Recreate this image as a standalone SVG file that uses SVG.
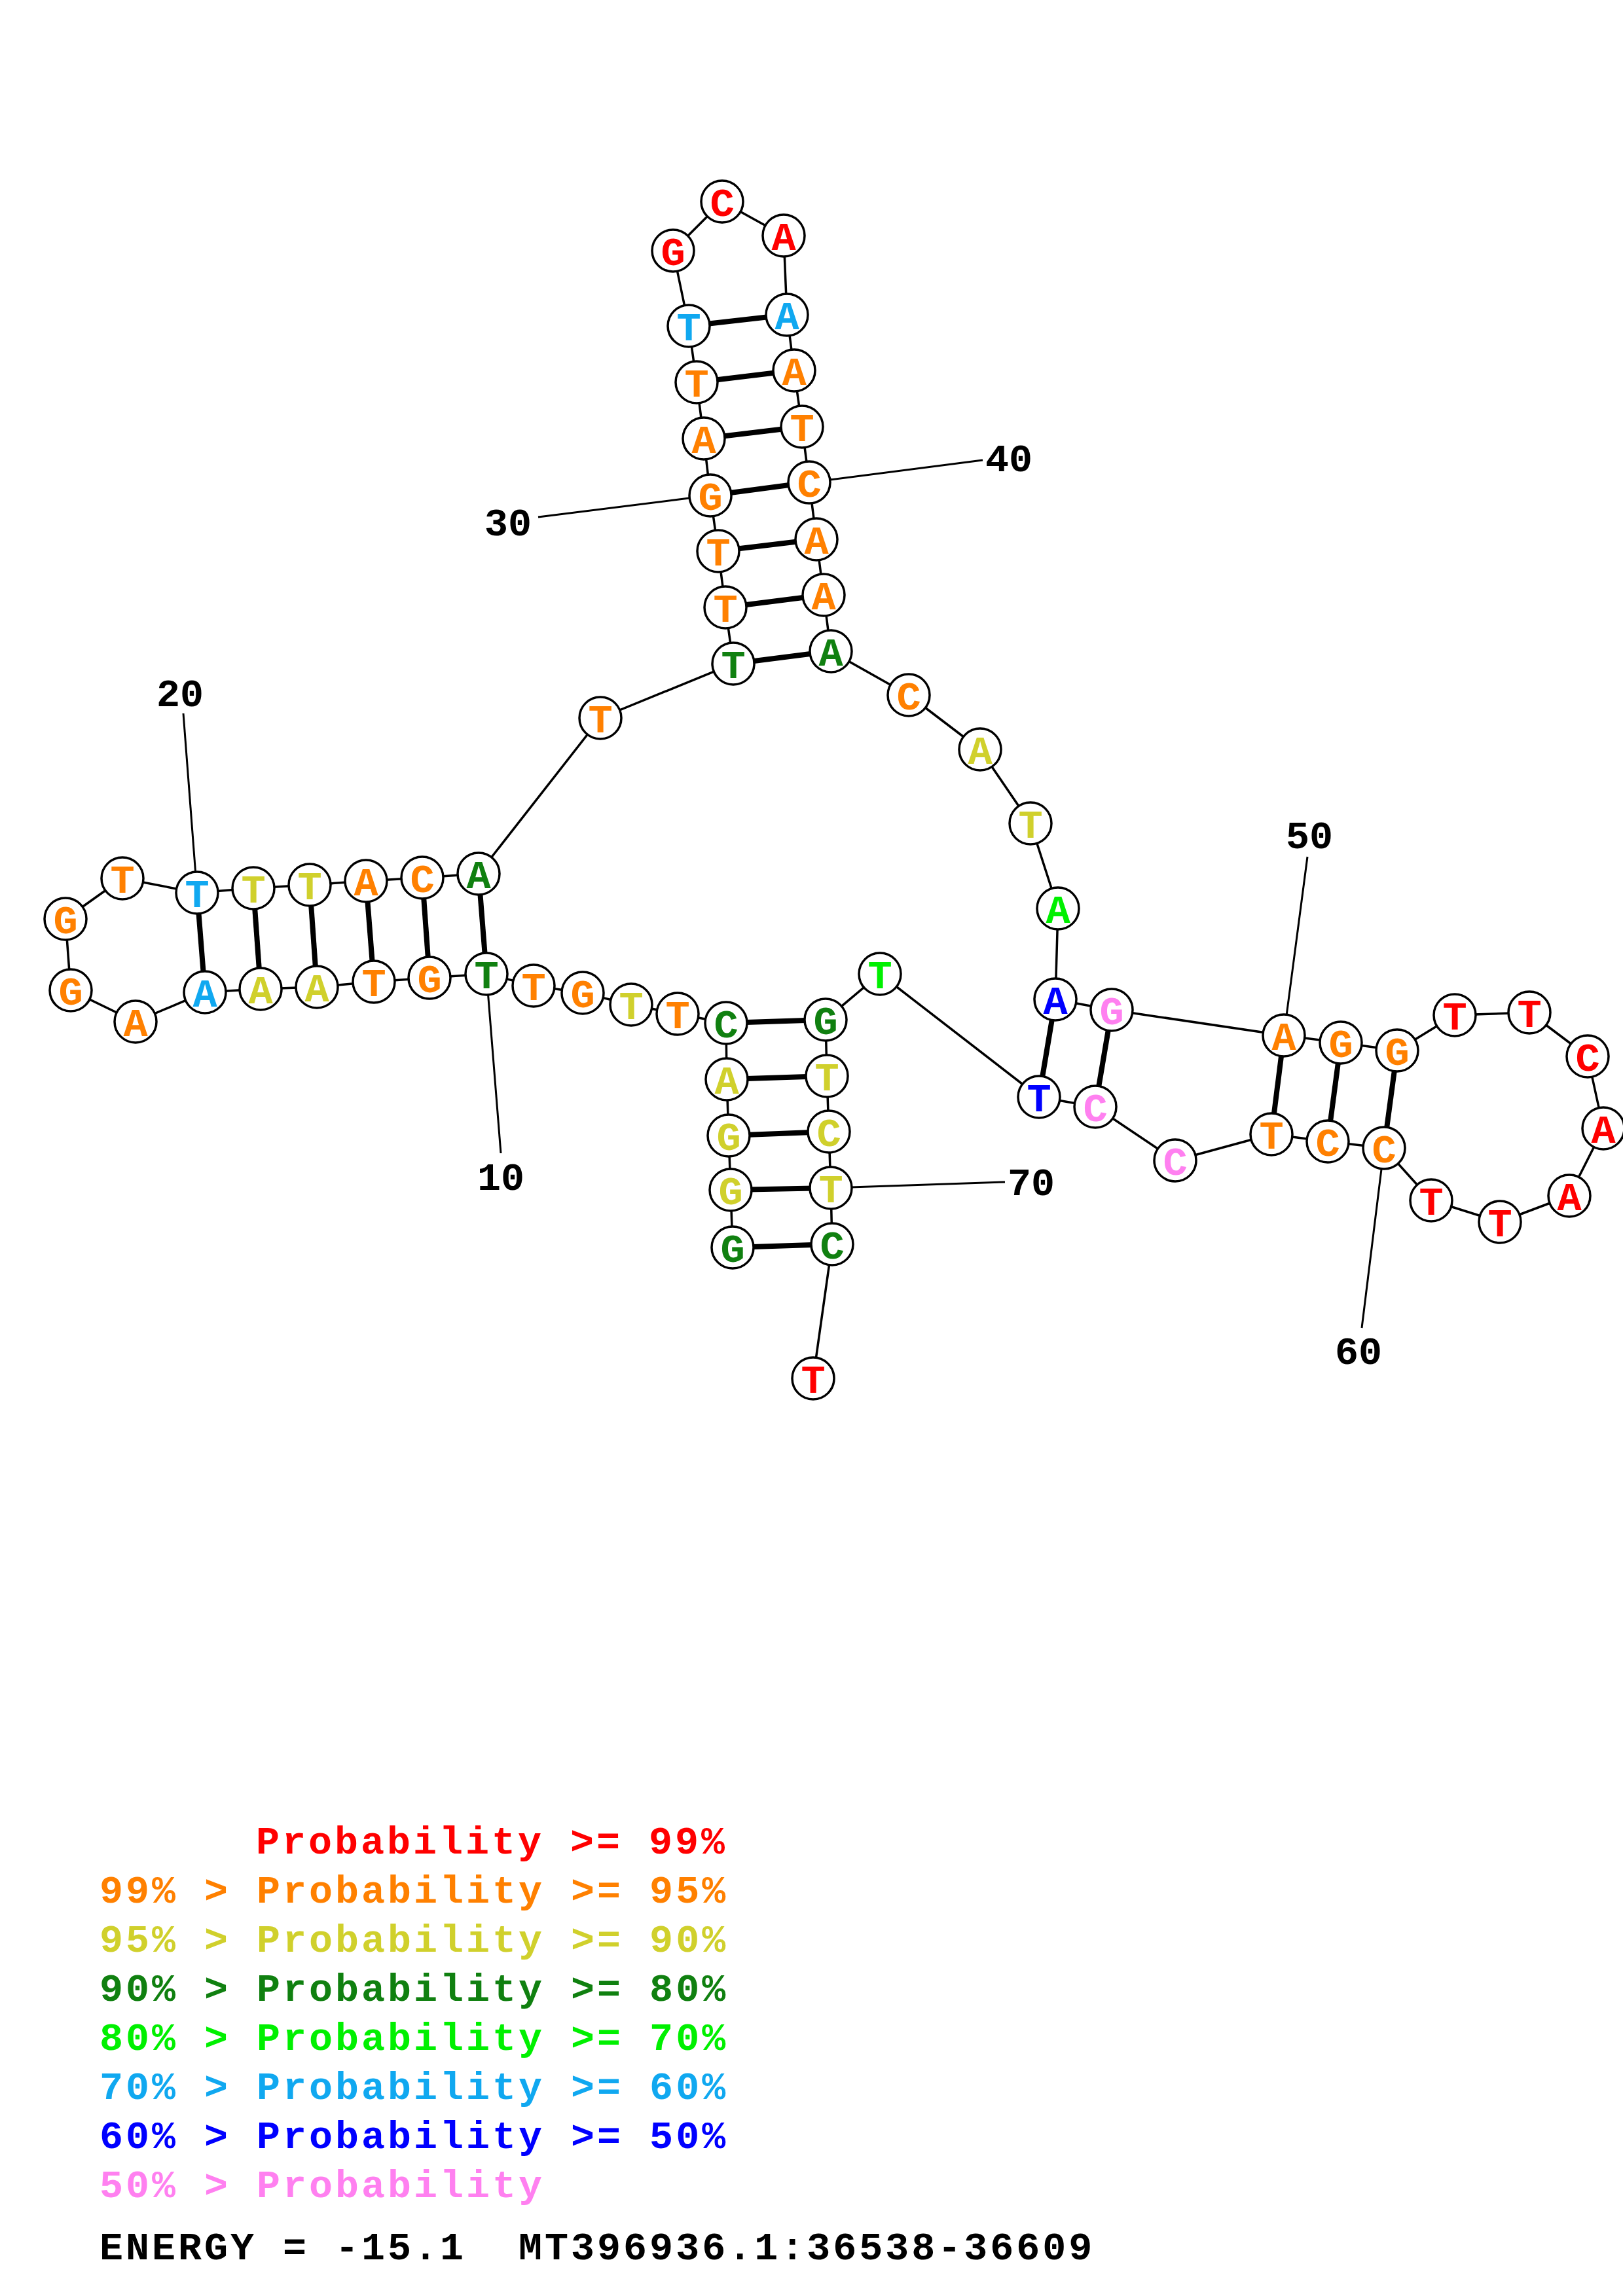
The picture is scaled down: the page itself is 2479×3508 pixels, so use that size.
<svg xmlns="http://www.w3.org/2000/svg" width="2479" height="3508" viewBox="0 0 2479 3508">
<style>
.bg{fill:#ffffff}
.nt circle{fill:#ffffff;stroke:#000000;stroke-width:3.5}
.nt text{font-family:"Liberation Mono","Courier New",monospace;font-weight:bold;font-size:62px;text-anchor:middle}
.bb{fill:none;stroke:#000000;stroke-width:3.5;stroke-linejoin:round}
.bp{stroke:#000000;stroke-width:8}
.tick{stroke:#000000;stroke-width:3}
.num{font-family:"Liberation Mono","Courier New",monospace;font-weight:bold;font-size:60px;text-anchor:middle;fill:#000000}
.leg{font-family:"Liberation Mono","Courier New",monospace;font-weight:bold;font-size:60px;letter-spacing:4px;white-space:pre}
.r{fill:#ff0000}.o{fill:#ff8000}.y{fill:#d0d02c}.dg{fill:#108010}.g{fill:#00f000}.lb{fill:#10a8f0}.b{fill:#0000ff}.p{fill:#ff80f0}.k{fill:#000000}
</style>
<rect class="bg" x="0" y="0" width="2479" height="3508"/>
<g id="connectors">
<polyline class="bb" points="1119,1906 1116,1818 1113,1735 1110,1649 1109,1563 1035,1549 964,1535 890,1517 815,1506 743,1488 656,1494 571,1500 484,1508 398,1511 313,1516 207,1561 108,1513 100,1404 187,1342 301,1364 387,1357 473,1352 559,1346 645,1341 731,1335 917,1097 1120,1014 1108,928 1097,842 1085,757 1075,670 1064,584 1052,498 1028,383 1103,308 1197,360 1202,481 1213,566 1225,652 1236,737 1247,824 1258,909 1269,995 1388,1062 1497,1145 1574,1258 1616,1388 1612,1527 1698,1543 1961,1582 2048,1593 2134,1605 2222,1551 2336,1547 2425,1614 2449,1724 2397,1827 2291,1867 2186,1834 2114,1754 2028,1744 1942,1733 1795,1773 1673,1691 1587,1676 1344,1488 1261,1558 1263,1644 1266,1729 1269,1815 1271,1901 1242,2106"/>
<line class="bp" x1="1119" y1="1906" x2="1271" y2="1901"/>
<line class="bp" x1="1116" y1="1818" x2="1269" y2="1815"/>
<line class="bp" x1="1113" y1="1735" x2="1266" y2="1729"/>
<line class="bp" x1="1110" y1="1649" x2="1263" y2="1644"/>
<line class="bp" x1="1109" y1="1563" x2="1261" y2="1558"/>
<line class="bp" x1="743" y1="1488" x2="731" y2="1335"/>
<line class="bp" x1="656" y1="1494" x2="645" y2="1341"/>
<line class="bp" x1="571" y1="1500" x2="559" y2="1346"/>
<line class="bp" x1="484" y1="1508" x2="473" y2="1352"/>
<line class="bp" x1="398" y1="1511" x2="387" y2="1357"/>
<line class="bp" x1="313" y1="1516" x2="301" y2="1364"/>
<line class="bp" x1="1120" y1="1014" x2="1269" y2="995"/>
<line class="bp" x1="1108" y1="928" x2="1258" y2="909"/>
<line class="bp" x1="1097" y1="842" x2="1247" y2="824"/>
<line class="bp" x1="1085" y1="757" x2="1236" y2="737"/>
<line class="bp" x1="1075" y1="670" x2="1225" y2="652"/>
<line class="bp" x1="1064" y1="584" x2="1213" y2="566"/>
<line class="bp" x1="1052" y1="498" x2="1202" y2="481"/>
<line class="bp" x1="1612" y1="1527" x2="1587" y2="1676"/>
<line class="bp" x1="1698" y1="1543" x2="1673" y2="1691"/>
<line class="bp" x1="1961" y1="1582" x2="1942" y2="1733"/>
<line class="bp" x1="2048" y1="1593" x2="2028" y2="1744"/>
<line class="bp" x1="2134" y1="1605" x2="2114" y2="1754"/>
<line class="tick" x1="743" y1="1488" x2="765" y2="1762"/>
<line class="tick" x1="301" y1="1364" x2="280" y2="1090"/>
<line class="tick" x1="1085" y1="757" x2="822" y2="790"/>
<line class="tick" x1="1236" y1="737" x2="1501" y2="703"/>
<line class="tick" x1="1961" y1="1582" x2="1997" y2="1309"/>
<line class="tick" x1="2114" y1="1754" x2="2080" y2="2029"/>
<line class="tick" x1="1269" y1="1815" x2="1535" y2="1806"/>
</g>
<g id="n1" class="nt"><circle cx="1119" cy="1906" r="32"/><text x="1119" y="1928" class="dg">G</text></g>
<g id="n2" class="nt"><circle cx="1116" cy="1818" r="32"/><text x="1116" y="1840" class="y">G</text></g>
<g id="n3" class="nt"><circle cx="1113" cy="1735" r="32"/><text x="1113" y="1757" class="y">G</text></g>
<g id="n4" class="nt"><circle cx="1110" cy="1649" r="32"/><text x="1110" y="1671" class="y">A</text></g>
<g id="n5" class="nt"><circle cx="1109" cy="1563" r="32"/><text x="1109" y="1585" class="dg">C</text></g>
<g id="n6" class="nt"><circle cx="1035" cy="1549" r="32"/><text x="1035" y="1571" class="o">T</text></g>
<g id="n7" class="nt"><circle cx="964" cy="1535" r="32"/><text x="964" y="1557" class="y">T</text></g>
<g id="n8" class="nt"><circle cx="890" cy="1517" r="32"/><text x="890" y="1539" class="o">G</text></g>
<g id="n9" class="nt"><circle cx="815" cy="1506" r="32"/><text x="815" y="1528" class="o">T</text></g>
<g id="n10" class="nt"><circle cx="743" cy="1488" r="32"/><text x="743" y="1510" class="dg">T</text></g>
<g id="n11" class="nt"><circle cx="656" cy="1494" r="32"/><text x="656" y="1516" class="o">G</text></g>
<g id="n12" class="nt"><circle cx="571" cy="1500" r="32"/><text x="571" y="1522" class="o">T</text></g>
<g id="n13" class="nt"><circle cx="484" cy="1508" r="32"/><text x="484" y="1530" class="y">A</text></g>
<g id="n14" class="nt"><circle cx="398" cy="1511" r="32"/><text x="398" y="1533" class="y">A</text></g>
<g id="n15" class="nt"><circle cx="313" cy="1516" r="32"/><text x="313" y="1538" class="lb">A</text></g>
<g id="n16" class="nt"><circle cx="207" cy="1561" r="32"/><text x="207" y="1583" class="o">A</text></g>
<g id="n17" class="nt"><circle cx="108" cy="1513" r="32"/><text x="108" y="1535" class="o">G</text></g>
<g id="n18" class="nt"><circle cx="100" cy="1404" r="32"/><text x="100" y="1426" class="o">G</text></g>
<g id="n19" class="nt"><circle cx="187" cy="1342" r="32"/><text x="187" y="1364" class="o">T</text></g>
<g id="n20" class="nt"><circle cx="301" cy="1364" r="32"/><text x="301" y="1386" class="lb">T</text></g>
<g id="n21" class="nt"><circle cx="387" cy="1357" r="32"/><text x="387" y="1379" class="y">T</text></g>
<g id="n22" class="nt"><circle cx="473" cy="1352" r="32"/><text x="473" y="1374" class="y">T</text></g>
<g id="n23" class="nt"><circle cx="559" cy="1346" r="32"/><text x="559" y="1368" class="o">A</text></g>
<g id="n24" class="nt"><circle cx="645" cy="1341" r="32"/><text x="645" y="1363" class="o">C</text></g>
<g id="n25" class="nt"><circle cx="731" cy="1335" r="32"/><text x="731" y="1357" class="dg">A</text></g>
<g id="n26" class="nt"><circle cx="917" cy="1097" r="32"/><text x="917" y="1119" class="o">T</text></g>
<g id="n27" class="nt"><circle cx="1120" cy="1014" r="32"/><text x="1120" y="1036" class="dg">T</text></g>
<g id="n28" class="nt"><circle cx="1108" cy="928" r="32"/><text x="1108" y="950" class="o">T</text></g>
<g id="n29" class="nt"><circle cx="1097" cy="842" r="32"/><text x="1097" y="864" class="o">T</text></g>
<g id="n30" class="nt"><circle cx="1085" cy="757" r="32"/><text x="1085" y="779" class="o">G</text></g>
<g id="n31" class="nt"><circle cx="1075" cy="670" r="32"/><text x="1075" y="692" class="o">A</text></g>
<g id="n32" class="nt"><circle cx="1064" cy="584" r="32"/><text x="1064" y="606" class="o">T</text></g>
<g id="n33" class="nt"><circle cx="1052" cy="498" r="32"/><text x="1052" y="520" class="lb">T</text></g>
<g id="n34" class="nt"><circle cx="1028" cy="383" r="32"/><text x="1028" y="405" class="r">G</text></g>
<g id="n35" class="nt"><circle cx="1103" cy="308" r="32"/><text x="1103" y="330" class="r">C</text></g>
<g id="n36" class="nt"><circle cx="1197" cy="360" r="32"/><text x="1197" y="382" class="r">A</text></g>
<g id="n37" class="nt"><circle cx="1202" cy="481" r="32"/><text x="1202" y="503" class="lb">A</text></g>
<g id="n38" class="nt"><circle cx="1213" cy="566" r="32"/><text x="1213" y="588" class="o">A</text></g>
<g id="n39" class="nt"><circle cx="1225" cy="652" r="32"/><text x="1225" y="674" class="o">T</text></g>
<g id="n40" class="nt"><circle cx="1236" cy="737" r="32"/><text x="1236" y="759" class="o">C</text></g>
<g id="n41" class="nt"><circle cx="1247" cy="824" r="32"/><text x="1247" y="846" class="o">A</text></g>
<g id="n42" class="nt"><circle cx="1258" cy="909" r="32"/><text x="1258" y="931" class="o">A</text></g>
<g id="n43" class="nt"><circle cx="1269" cy="995" r="32"/><text x="1269" y="1017" class="dg">A</text></g>
<g id="n44" class="nt"><circle cx="1388" cy="1062" r="32"/><text x="1388" y="1084" class="o">C</text></g>
<g id="n45" class="nt"><circle cx="1497" cy="1145" r="32"/><text x="1497" y="1167" class="y">A</text></g>
<g id="n46" class="nt"><circle cx="1574" cy="1258" r="32"/><text x="1574" y="1280" class="y">T</text></g>
<g id="n47" class="nt"><circle cx="1616" cy="1388" r="32"/><text x="1616" y="1410" class="g">A</text></g>
<g id="n48" class="nt"><circle cx="1612" cy="1527" r="32"/><text x="1612" y="1549" class="b">A</text></g>
<g id="n49" class="nt"><circle cx="1698" cy="1543" r="32"/><text x="1698" y="1565" class="p">G</text></g>
<g id="n50" class="nt"><circle cx="1961" cy="1582" r="32"/><text x="1961" y="1604" class="o">A</text></g>
<g id="n51" class="nt"><circle cx="2048" cy="1593" r="32"/><text x="2048" y="1615" class="o">G</text></g>
<g id="n52" class="nt"><circle cx="2134" cy="1605" r="32"/><text x="2134" y="1627" class="o">G</text></g>
<g id="n53" class="nt"><circle cx="2222" cy="1551" r="32"/><text x="2222" y="1573" class="r">T</text></g>
<g id="n54" class="nt"><circle cx="2336" cy="1547" r="32"/><text x="2336" y="1569" class="r">T</text></g>
<g id="n55" class="nt"><circle cx="2425" cy="1614" r="32"/><text x="2425" y="1636" class="r">C</text></g>
<g id="n56" class="nt"><circle cx="2449" cy="1724" r="32"/><text x="2449" y="1746" class="r">A</text></g>
<g id="n57" class="nt"><circle cx="2397" cy="1827" r="32"/><text x="2397" y="1849" class="r">A</text></g>
<g id="n58" class="nt"><circle cx="2291" cy="1867" r="32"/><text x="2291" y="1889" class="r">T</text></g>
<g id="n59" class="nt"><circle cx="2186" cy="1834" r="32"/><text x="2186" y="1856" class="r">T</text></g>
<g id="n60" class="nt"><circle cx="2114" cy="1754" r="32"/><text x="2114" y="1776" class="o">C</text></g>
<g id="n61" class="nt"><circle cx="2028" cy="1744" r="32"/><text x="2028" y="1766" class="o">C</text></g>
<g id="n62" class="nt"><circle cx="1942" cy="1733" r="32"/><text x="1942" y="1755" class="o">T</text></g>
<g id="n63" class="nt"><circle cx="1795" cy="1773" r="32"/><text x="1795" y="1795" class="p">C</text></g>
<g id="n64" class="nt"><circle cx="1673" cy="1691" r="32"/><text x="1673" y="1713" class="p">C</text></g>
<g id="n65" class="nt"><circle cx="1587" cy="1676" r="32"/><text x="1587" y="1698" class="b">T</text></g>
<g id="n66" class="nt"><circle cx="1344" cy="1488" r="32"/><text x="1344" y="1510" class="g">T</text></g>
<g id="n67" class="nt"><circle cx="1261" cy="1558" r="32"/><text x="1261" y="1580" class="dg">G</text></g>
<g id="n68" class="nt"><circle cx="1263" cy="1644" r="32"/><text x="1263" y="1666" class="y">T</text></g>
<g id="n69" class="nt"><circle cx="1266" cy="1729" r="32"/><text x="1266" y="1751" class="y">C</text></g>
<g id="n70" class="nt"><circle cx="1269" cy="1815" r="32"/><text x="1269" y="1837" class="y">T</text></g>
<g id="n71" class="nt"><circle cx="1271" cy="1901" r="32"/><text x="1271" y="1923" class="dg">C</text></g>
<g id="n72" class="nt"><circle cx="1242" cy="2106" r="32"/><text x="1242" y="2128" class="r">T</text></g>
<g id="numbers">
<text class="num" x="765" y="1818">10</text>
<text class="num" x="275" y="1079">20</text>
<text class="num" x="776" y="818">30</text>
<text class="num" x="1541" y="720">40</text>
<text class="num" x="2000" y="1296">50</text>
<text class="num" x="2075" y="2084">60</text>
<text class="num" x="1575" y="1826">70</text>
</g>
<g id="legend" xml:space="preserve">
<text class="leg r" x="391" y="2832">Probability &gt;= 99%</text>
<text class="leg o" x="152" y="2907">99% &gt; Probability &gt;= 95%</text>
<text class="leg y" x="152" y="2982">95% &gt; Probability &gt;= 90%</text>
<text class="leg dg" x="152" y="3057">90% &gt; Probability &gt;= 80%</text>
<text class="leg g" x="152" y="3132">80% &gt; Probability &gt;= 70%</text>
<text class="leg lb" x="152" y="3207">70% &gt; Probability &gt;= 60%</text>
<text class="leg b" x="152" y="3282">60% &gt; Probability &gt;= 50%</text>
<text class="leg p" x="152" y="3357">50% &gt; Probability</text>
<text class="leg k" x="152" y="3452">ENERGY = -15.1  MT396936.1:36538-36609</text>
</g>
</svg>
